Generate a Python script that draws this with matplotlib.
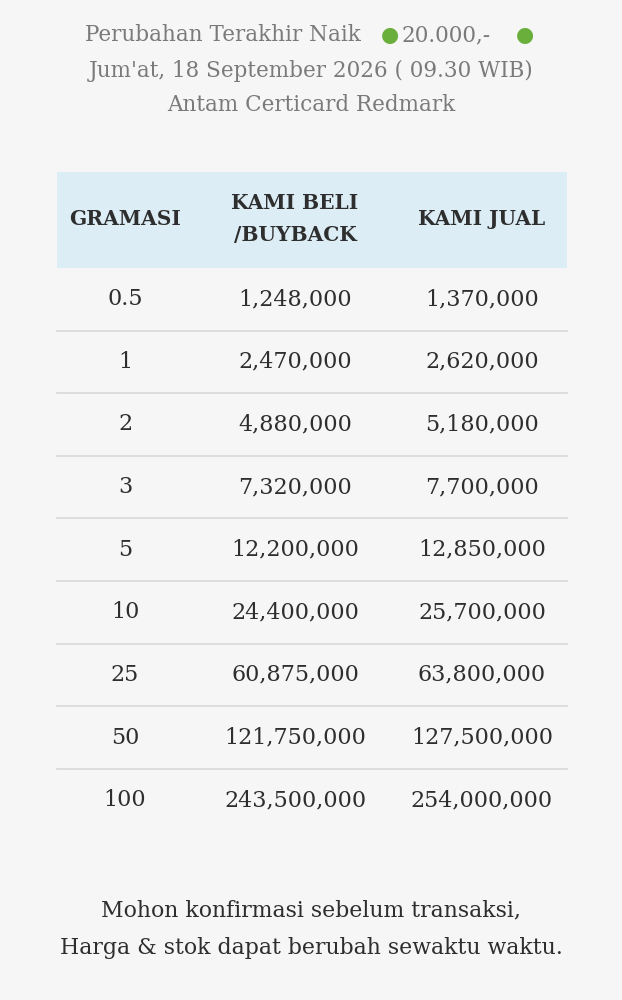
import matplotlib.pyplot as plt
from matplotlib.patches import Rectangle

gramasi = ["0.5", "1", "2", "3", "5", "10", "25", "50", "100"]
buyback = ["1,248,000", "2,470,000", "4,880,000", "7,320,000", "12,200,000",
           "24,400,000", "60,875,000", "121,750,000", "243,500,000"]
jual = ["1,370,000", "2,620,000", "5,180,000", "7,700,000", "12,850,000",
        "25,700,000", "63,800,000", "127,500,000", "254,000,000"]
headers = ["GRAMASI", "KAMI BELI\n/BUYBACK", "KAMI JUAL"]

bg = "#f6f6f6"
grey = "#7a7a7a"
dark = "#2e2e2e"
green = "#6aae3c"
font = "DejaVu Serif"

fig = plt.figure(figsize=(6.22, 10), dpi=100, facecolor=bg)
ax = fig.add_axes([0, 0, 1, 1])
ax.set_xlim(0, 622)
ax.set_ylim(1000, 0)
ax.axis("off")

# title block
tkw = dict(family=font, fontsize=15.5, color=grey, va="center")
ax.text(85, 35, "Perubahan Terakhir Naik", ha="left", **tkw)
ax.text(390, 35, "●", ha="center", family="DejaVu Sans", fontsize=15, color=green, va="center")
ax.text(402, 35, "20.000,-", ha="left", **tkw)
ax.text(525, 35, "●", ha="center", family="DejaVu Sans", fontsize=15, color=green, va="center")
ax.text(311, 71, "Jum'at, 18 September 2026 ( 09.30 WIB)", ha="center", **tkw)
ax.text(311, 105, "Antam Certicard Redmark", ha="center", **tkw)

# table
x0, x1 = 57, 567
head_top, head_bot = 172, 268
row_h = 62.6
cols = [125, 295, 482]

ax.add_patch(Rectangle((x0, head_top), x1 - x0, head_bot - head_top,
                       facecolor="#dcedf6", edgecolor="none"))
for c, h in zip(cols, headers):
    ax.text(c, 219, h, ha="center", va="center", family=font, fontsize=14.5,
            color=dark, fontweight="bold", linespacing=1.7)

for i in range(len(gramasi)):
    yc = head_bot + row_h * (i + 0.5)
    for c, v in zip(cols, [gramasi[i], buyback[i], jual[i]]):
        ax.text(c, yc, v, ha="center", va="center", family=font,
                fontsize=16, color=dark)
    if i < len(gramasi) - 1:
        yl = head_bot + row_h * (i + 1)
        ax.plot([x0, x1], [yl, yl], color="#d8d8d8", lw=1.2)

ax.text(311, 910, "Mohon konfirmasi sebelum transaksi,", ha="center", va="center",
        family=font, fontsize=15.8, color=dark)
ax.text(311, 948, "Harga & stok dapat berubah sewaktu waktu.", ha="center", va="center",
        family=font, fontsize=15.8, color=dark)

fig.savefig("out.png", dpi=100, facecolor=bg)
